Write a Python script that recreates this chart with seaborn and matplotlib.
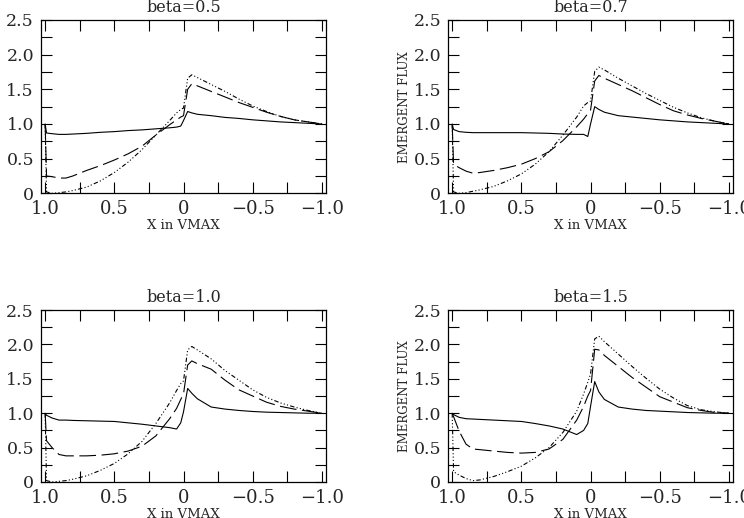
import numpy as np
import pandas as pd
import matplotlib
matplotlib.use("Agg")
import matplotlib.pyplot as plt
from matplotlib.ticker import MultipleLocator, FuncFormatter
import seaborn as sns

# ---------------- data ----------------
x_grid = [1.0, 0.99, 0.95, 0.9, 0.85, 0.8, 0.7, 0.6, 0.5, 0.4, 0.3, 0.2, 0.1,
          0.05, 0.02, 0.0, -0.03, -0.06, -0.1, -0.2, -0.3, -0.4, -0.5, -0.6,
          -0.7, -0.8, -0.9, -1.0]

betas = ["0.5", "0.7", "1.0", "1.5"]

solid_05 = [1.0, 0.87, 0.86, 0.85, 0.85, 0.855, 0.865, 0.88, 0.89, 0.905, 0.915, 0.93, 0.945,
            0.955, 0.97, 1.05, 1.18, 1.16, 1.14, 1.12, 1.095, 1.08, 1.06, 1.045,
            1.03, 1.02, 1.01, 1.0]
dashed_05 = [1.0, 0.25, 0.24, 0.22, 0.22, 0.25, 0.33, 0.40, 0.48, 0.57, 0.68, 0.84, 0.99,
             1.06, 1.10, 1.12, 1.50, 1.58, 1.55, 1.47, 1.39, 1.31, 1.24, 1.17,
             1.11, 1.06, 1.03, 1.0]
dotted_05 = [1.0, 0.02, 0.0, 0.01, 0.02, 0.04, 0.09, 0.18, 0.30, 0.45, 0.63, 0.84, 1.05,
             1.16, 1.21, 1.23, 1.66, 1.71, 1.67, 1.57, 1.47, 1.36, 1.26, 1.18,
             1.11, 1.06, 1.03, 1.0]

solid_07 = [1.0, 0.92, 0.89, 0.88, 0.875, 0.875, 0.875, 0.875, 0.875, 0.87, 0.865, 0.855, 0.85,
            0.85, 0.82, 1.0, 1.25, 1.21, 1.17, 1.12, 1.10, 1.08, 1.06, 1.045,
            1.03, 1.02, 1.01, 1.0]
dashed_07 = [1.0, 0.42, 0.37, 0.32, 0.29, 0.30, 0.33, 0.37, 0.42, 0.50, 0.60, 0.76, 0.96,
             1.07, 1.15, 1.20, 1.62, 1.70, 1.66, 1.57, 1.48, 1.38, 1.28, 1.19,
             1.13, 1.08, 1.04, 1.0]
dotted_07 = [1.0, 0.02, 0.0, 0.01, 0.03, 0.05, 0.10, 0.18, 0.28, 0.42, 0.60, 0.84, 1.10,
             1.26, 1.31, 1.33, 1.76, 1.82, 1.78, 1.66, 1.55, 1.44, 1.34, 1.24,
             1.16, 1.09, 1.04, 1.0]

solid_10 = [1.0, 0.97, 0.93, 0.90, 0.90, 0.895, 0.89, 0.885, 0.88, 0.86, 0.84, 0.815, 0.79,
            0.77, 0.86, 1.02, 1.36, 1.29, 1.21, 1.09, 1.06, 1.04, 1.025, 1.015,
            1.01, 1.005, 1.0, 1.0]
dashed_10 = [1.0, 0.60, 0.50, 0.40, 0.38, 0.38, 0.38, 0.39, 0.41, 0.45, 0.52, 0.67, 0.92,
             1.07, 1.20, 1.28, 1.70, 1.76, 1.72, 1.64, 1.48, 1.34, 1.25, 1.16,
             1.10, 1.06, 1.03, 1.0]
dotted_10 = [1.0, 0.02, 0.0, 0.01, 0.02, 0.04, 0.09, 0.17, 0.27, 0.41, 0.59, 0.85, 1.15,
             1.33, 1.43, 1.47, 1.92, 1.97, 1.92, 1.79, 1.62, 1.48, 1.34, 1.23,
             1.15, 1.09, 1.04, 1.0]

solid_15 = [1.0, 0.98, 0.94, 0.92, 0.915, 0.91, 0.90, 0.89, 0.88, 0.85, 0.815, 0.77, 0.69,
            0.75, 0.85, 1.10, 1.46, 1.31, 1.20, 1.09, 1.06, 1.04, 1.03, 1.02,
            1.01, 1.005, 1.0, 1.0]
dashed_15 = [1.0, 0.95, 0.74, 0.55, 0.48, 0.47, 0.45, 0.43, 0.42, 0.43, 0.48, 0.62, 0.90,
             1.10, 1.25, 1.33, 1.93, 1.92, 1.84, 1.68, 1.52, 1.38, 1.24, 1.16,
             1.08, 1.04, 1.01, 1.0]
dotted_15 = [1.0, 0.15, 0.10, 0.05, 0.02, 0.03, 0.08, 0.15, 0.23, 0.35, 0.50, 0.72, 1.03,
             1.28, 1.45, 1.57, 2.08, 2.12, 2.04, 1.86, 1.68, 1.51, 1.35, 1.22,
             1.11, 1.05, 1.02, 1.0]

series = {
    "0.5": (solid_05, dashed_05, dotted_05),
    "0.7": (solid_07, dashed_07, dotted_07),
    "1.0": (solid_10, dashed_10, dotted_10),
    "1.5": (solid_15, dashed_15, dotted_15),
}

x_ticks_major = 0.5
tick_step = 0.25
x_label = "X in VMAX"
y_label = "EMERGENT FLUX"

# ---------------- style ----------------
sns.set_theme(style="ticks")
plt.rcParams["font.family"] = ["DejaVu Serif"]
plt.rcParams["axes.unicode_minus"] = True

fig = plt.figure(figsize=(7.44, 5.18), dpi=100)

positions = [
    [0.0551, 0.6268, 0.3831, 0.3346],
    [0.6022, 0.6268, 0.3831, 0.3346],
    [0.0551, 0.0695, 0.3831, 0.3320],
    [0.6022, 0.0695, 0.3831, 0.3320],
]

line_styles = ["-", (0, (15, 5)), (0, (4, 2, 1, 2, 1, 2, 1, 2))]


def fmt(v, pos):
    if abs(v) < 1e-9:
        return "0"
    return ("%.1f" % v).replace("-", "\u2212")


for i, beta in enumerate(betas):
    ax = fig.add_axes(positions[i])
    for ys, ls in zip(series[beta], line_styles):
        df = pd.DataFrame({"x": x_grid, "y": ys})
        sns.lineplot(data=df, x="x", y="y", ax=ax, sort=False, estimator=None,
                     color="black", linewidth=0.8, linestyle=ls)
    ax.set_xlim(1.03, -1.03)
    ax.set_ylim(0, 2.5)
    ax.xaxis.set_major_locator(MultipleLocator(x_ticks_major))
    ax.xaxis.set_minor_locator(MultipleLocator(tick_step))
    ax.yaxis.set_major_locator(MultipleLocator(0.5))
    ax.yaxis.set_minor_locator(MultipleLocator(tick_step))
    ax.xaxis.set_major_formatter(FuncFormatter(fmt))
    ax.yaxis.set_major_formatter(FuncFormatter(fmt))
    ax.tick_params(which="both", direction="in", top=True, right=True,
                   length=8, width=0.8, color="black")
    ax.tick_params(axis="x", which="major", labelsize=13, pad=5)
    ax.tick_params(axis="y", which="major", labelsize=12.5, pad=5)
    for s in ax.spines.values():
        s.set_linewidth(0.9)
        s.set_color("black")
    ax.set_title("beta=" + beta, fontsize=11.5, pad=6)
    ax.set_xlabel(x_label, fontsize=9.5, labelpad=0.5)
    if i % 2 == 1:
        ax.set_ylabel(y_label, fontsize=8.5, labelpad=1.5)
    else:
        ax.set_ylabel("")
    ax.grid(False)

fig.savefig("out.png", dpi=100, facecolor="white")
